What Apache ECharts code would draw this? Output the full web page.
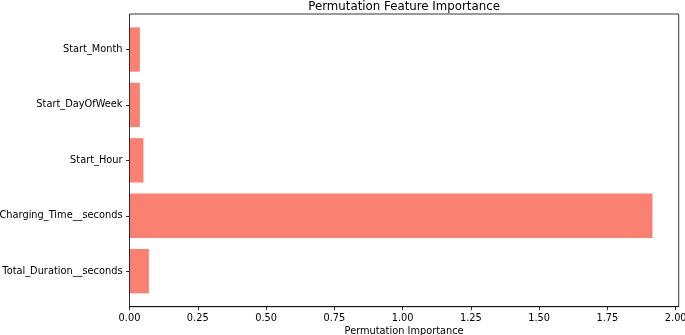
<!DOCTYPE html>
<html>
<head>
<meta charset="utf-8">
<script src="https://cdn.jsdelivr.net/npm/echarts@6/dist/echarts.min.js"></script>
<style>
  html, body { margin: 0; padding: 0; background: #fff; }
  #chart { width: 685px; height: 335px; }
</style>
</head>
<body>
<div id="chart"></div>
<script>
// features, bottom to top (same order as barh)
let features = ['Total_Duration__seconds', 'Charging_Time__seconds', 'Start_Hour', 'Start_DayOfWeek', 'Start_Month'];
let importance = [0.071, 1.915, 0.051, 0.038, 0.038];
let xTicks = [0, 0.25, 0.5, 0.75, 1.0, 1.25, 1.5, 1.75, 2.0];

let myChart = echarts.init(document.getElementById('chart'));

// plot frame (matplotlib axes box)
let frameLeft = 129.5, frameTop = 14, frameRight = 678.7, frameBottom = 306.7;
let pad = 7.8; // extra y margin outside the category bands

let option = {
    animation: false,
    textStyle: { fontFamily: 'DejaVu Sans' },
    title: {
        text: 'Permutation Feature Importance',
        left: (frameLeft + frameRight) / 2,
        textAlign: 'center',
        top: 0,
        padding: [1, 0, 0, 0],
        textStyle: { fontSize: 11.8, fontWeight: 'normal', color: '#000', fontFamily: 'DejaVu Sans' }
    },
    grid: {
        left: frameLeft,
        right: 685 - frameRight,
        top: frameTop + pad,
        bottom: 335 - frameBottom + pad,
        containLabel: false,
        outerBoundsMode: 'none'
    },
    xAxis: {
        type: 'value',
        min: 0,
        max: 2.011,
        offset: pad,
        name: 'Permutation Importance',
        nameLocation: 'middle',
        nameGap: 20,
        nameMoveOverlap: false,
        nameTextStyle: { fontSize: 9.8, color: '#000' },
        axisLine: { show: true, lineStyle: { color: '#000', width: 0.8 } },
        axisTick: { show: true, length: 3.5, customValues: xTicks, lineStyle: { color: '#000', width: 0.8 } },
        axisLabel: {
            customValues: xTicks,
            fontSize: 9.8,
            color: '#000',
            margin: 7,
            formatter: function (v) { return v.toFixed(2); }
        },
        splitLine: { show: false }
    },
    yAxis: {
        type: 'category',
        data: features,
        axisLine: { show: false },
        axisTick: { show: true, alignWithLabel: true, length: 3.5, lineStyle: { color: '#000', width: 0.8 } },
        axisLabel: { fontSize: 9.8, color: '#000', margin: 7 }
    },
    graphic: [{
        type: 'rect',
        shape: { x: frameLeft, y: frameTop, width: frameRight - frameLeft, height: frameBottom - frameTop },
        style: { fill: 'none', stroke: '#000', lineWidth: 0.8 },
        z: 10
    }],
    series: [{
        type: 'bar',
        data: importance,
        barWidth: '80%',
        itemStyle: { color: '#FA8072' }
    }]
};
myChart.setOption(option);
</script>
</body>
</html>
